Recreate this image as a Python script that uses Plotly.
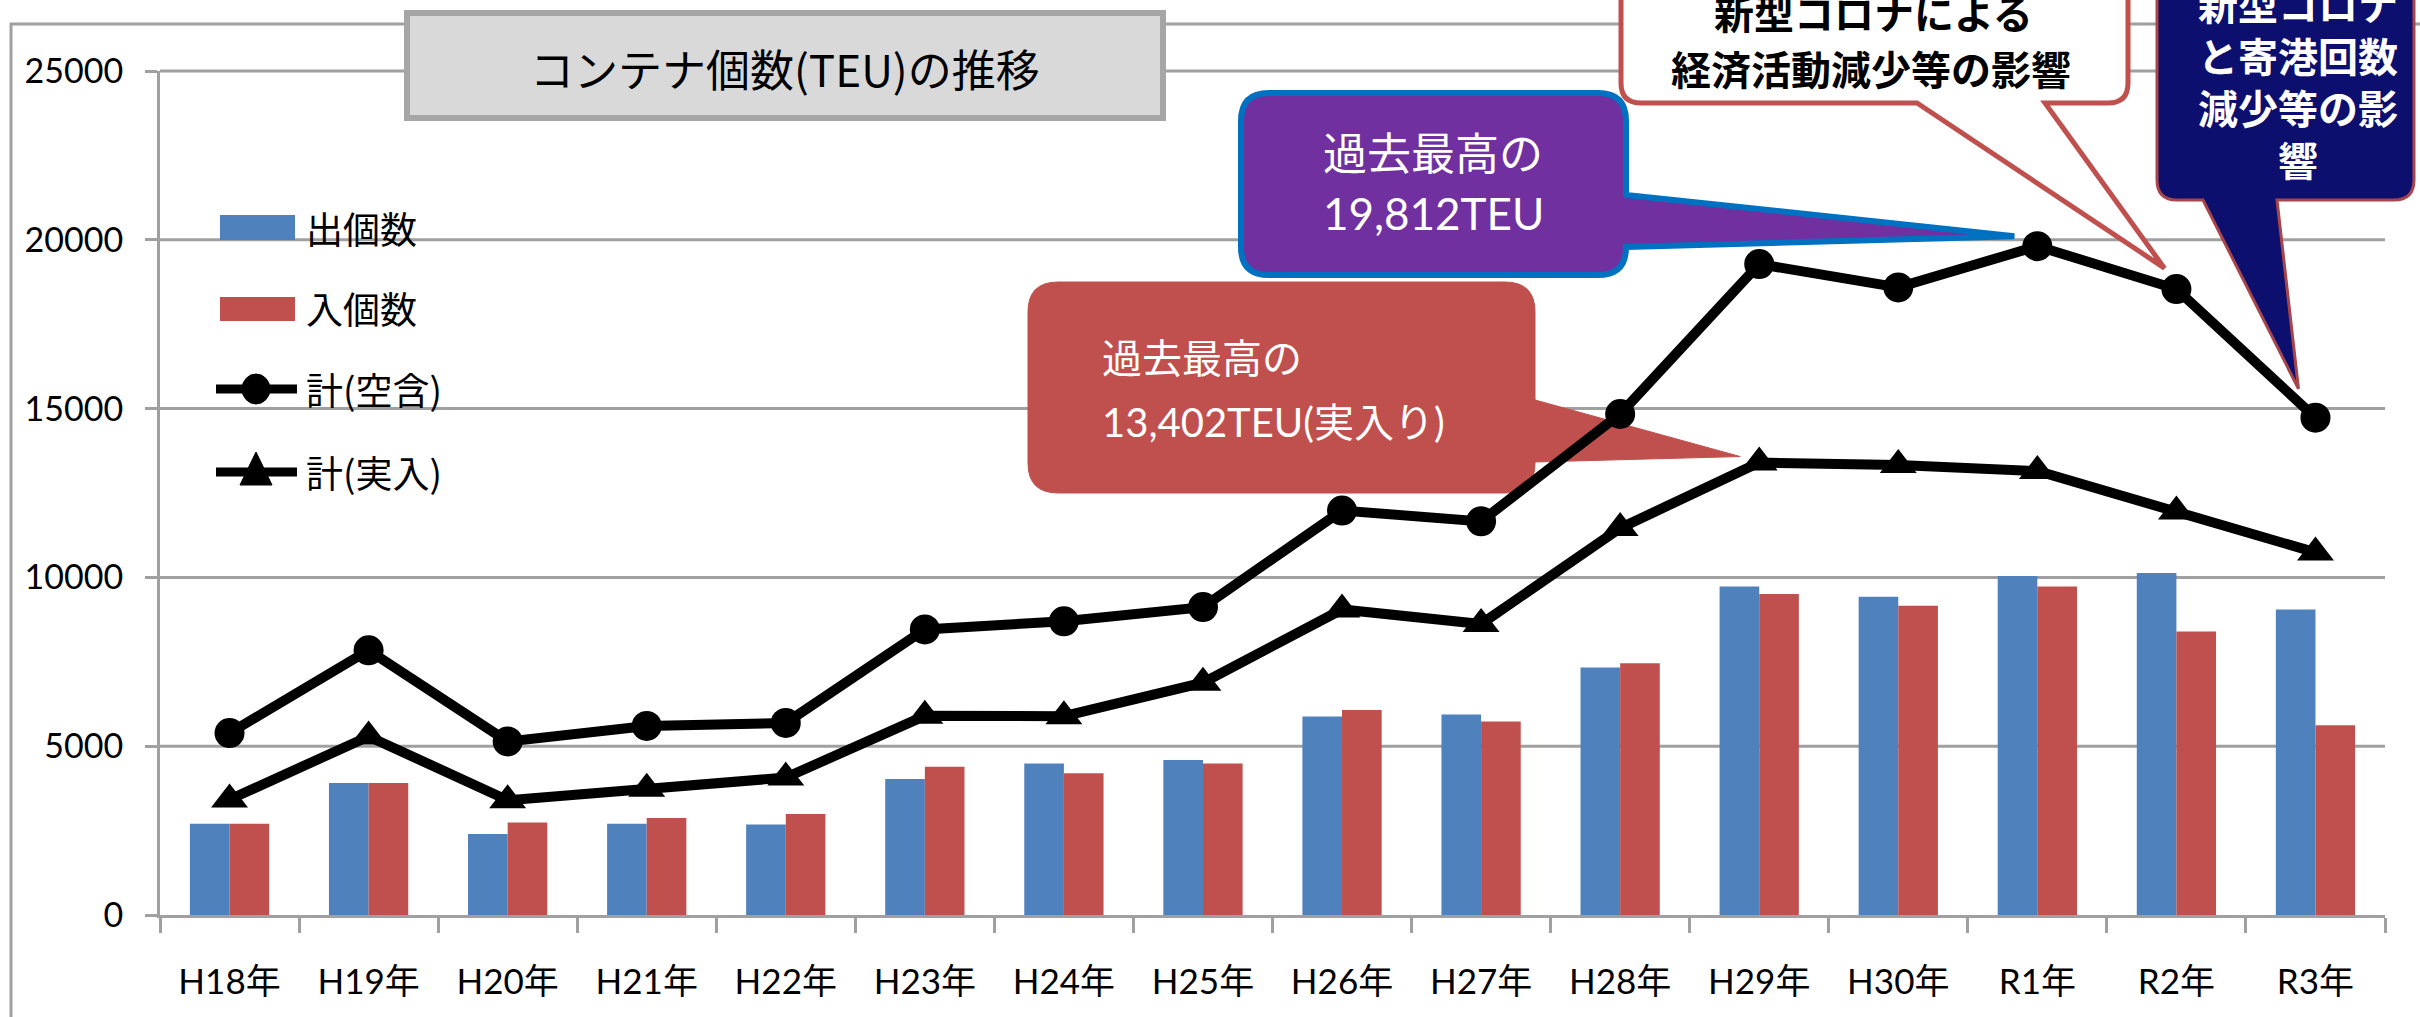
import plotly.graph_objects as go

# ---------------- data ----------------
categories = ["H18年", "H19年", "H20年", "H21年", "H22年", "H23年", "H24年", "H25年",
              "H26年", "H27年", "H28年", "H29年", "H30年", "R1年", "R2年", "R3年"]
out_counts = [2700, 3910, 2400, 2700, 2680, 4030, 4490, 4590,
              5880, 5940, 7330, 9730, 9430, 10040, 10130, 9050]
in_counts = [2700, 3910, 2740, 2870, 2990, 4390, 4200, 4490,
             6070, 5730, 7460, 9510, 9160, 9730, 8400, 5620]
total_all = [5390, 7840, 5140, 5600, 5690, 8460, 8700, 9120,
             11980, 11660, 14840, 19280, 18590, 19812, 18540, 14730]
total_real = [3420, 5290, 3400, 3740, 4070, 5900, 5890, 6880,
              9050, 8620, 11460, 13402, 13330, 13150, 11950, 10740]
y_ticks = [0, 5000, 10000, 15000, 20000, 25000]
y_max = 25000

series_names = ["出個数", "入個数", "計(空含)", "計(実入)"]
title_text = "コンテナ個数(TEU)の推移"

# ---------------- layout constants (pixels) ----------------
W, H = 2420, 1017
L, R, T, B = 160, 2385, 71, 915
GRID = "#a0a0a0"
BLUE = "#4f81bd"
RED = "#c0504d"
FONT = "Lato, Noto Sans CJK JP, sans-serif"
JFONT = "Noto Sans CJK JP, sans-serif"


def px(x):
    return (x - L) / (R - L)


def py(y):
    return (B - y) / (B - T)


def P(x, y):
    return f"{px(x):.5f},{py(y):.5f}"


def data_px(i, v):
    return L + (i + 0.5) * (R - L) / len(categories), B - v / y_max * (B - T)


def callout(x0, y0, x1, y1, r, side, a, b, tip):
    tx, ty = tip
    d = [f"M{P(x0 + r, y0)}", f"L{P(x1 - r, y0)}", f"Q{P(x1, y0)} {P(x1, y0 + r)}"]
    if side == "right":
        d += [f"L{P(x1, a)}", f"L{P(tx, ty)}", f"L{P(x1, b)}"]
    d += [f"L{P(x1, y1 - r)}", f"Q{P(x1, y1)} {P(x1 - r, y1)}"]
    if side == "bottom":
        d += [f"L{P(b, y1)}", f"L{P(tx, ty)}", f"L{P(a, y1)}"]
    d += [f"L{P(x0 + r, y1)}", f"Q{P(x0, y1)} {P(x0, y1 - r)}",
          f"L{P(x0, y0 + r)}", f"Q{P(x0, y0)} {P(x0 + r, y0)}", "Z"]
    return " ".join(d)


fig = go.Figure()
fig.add_trace(go.Bar(x=categories, y=out_counts, name=series_names[0],
                     marker=dict(color=BLUE, line=dict(width=0)), showlegend=False))
fig.add_trace(go.Bar(x=categories, y=in_counts, name=series_names[1],
                     marker=dict(color=RED, line=dict(width=0)), showlegend=False))
fig.add_trace(go.Scatter(x=categories, y=total_real, name=series_names[3], mode="lines+markers",
                         line=dict(color="black", width=10),
                         marker=dict(symbol="triangle-up", size=32, color="black"),
                         showlegend=False, cliponaxis=False))
fig.add_trace(go.Scatter(x=categories, y=total_all, name=series_names[2], mode="lines+markers",
                         line=dict(color="black", width=10),
                         marker=dict(symbol="circle", size=30, color="black"),
                         showlegend=False, cliponaxis=False))

shapes = []
# outer frame
shapes.append(dict(type="rect", xref="paper", yref="paper", layer="below",
                   x0=px(11), y0=py(1040), x1=px(2440), y1=py(24),
                   line=dict(color=GRID, width=3), fillcolor="rgba(0,0,0,0)"))
# gridlines (kept beneath the callouts)
for v in y_ticks[1:]:
    shapes.append(dict(type="line", xref="paper", yref="paper", layer="below",
                       x0=0, x1=1, y0=v / y_max, y1=v / y_max,
                       line=dict(color=GRID, width=3)))
# title box
shapes.append(dict(type="rect", xref="paper", yref="paper", layer="below",
                   x0=px(407), y0=py(118), x1=px(1163), y1=py(13),
                   line=dict(color="#a6a6a6", width=6), fillcolor="#d9d9d9"))

# callouts
i_r1 = categories.index("R1年")
i_h29 = categories.index("H29年")
i_r2 = categories.index("R2年")
i_r3 = categories.index("R3年")

p = data_px(i_r1, total_all[i_r1])
shapes.append(dict(type="path", xref="paper", yref="paper", layer="below",
                   path=callout(1241, 93, 1626, 275, 28, "right", 195, 247, (p[0] - 23, p[1] - 10)),
                   fillcolor="#7030a0", line=dict(color="#0070c0", width=6)))
p = data_px(i_h29, total_real[i_h29])
shapes.append(dict(type="path", xref="paper", yref="paper", layer="below",
                   path=callout(1028, 282, 1535, 493, 30, "right", 400, 462, (p[0] - 19, p[1] - 6)),
                   fillcolor=RED, line=dict(color=RED, width=1)))
p = data_px(i_r2, total_all[i_r2])
shapes.append(dict(type="path", xref="paper", yref="paper", layer="below",
                   path=callout(1621, -60, 2128, 103, 20, "bottom", 1917, 2045, (p[0] - 12, p[1] - 21)),
                   fillcolor="white", line=dict(color=RED, width=5)))
p = data_px(i_r3, total_all[i_r3])
shapes.append(dict(type="path", xref="paper", yref="paper", layer="below",
                   path=callout(2157, -60, 2414, 200, 20, "bottom", 2203, 2277, (p[0] - 17, p[1] - 29)),
                   fillcolor="#0c0f6e", line=dict(color="#a8454a", width=3)))

# manual legend
shapes.append(dict(type="rect", xref="paper", yref="paper", layer="below",
                   x0=px(220), x1=px(295), y0=py(240), y1=py(215),
                   fillcolor=BLUE, line=dict(width=0)))
shapes.append(dict(type="rect", xref="paper", yref="paper", layer="below",
                   x0=px(220), x1=px(295), y0=py(321), y1=py(297),
                   fillcolor=RED, line=dict(width=0)))
for yy in (389, 472):
    shapes.append(dict(type="line", xref="paper", yref="paper", layer="above",
                       x0=px(216), x1=px(297), y0=py(yy), y1=py(yy),
                       line=dict(color="black", width=9)))
shapes.append(dict(type="circle", xref="paper", yref="paper", layer="above",
                   x0=px(242), x1=px(270), y0=py(404), y1=py(374),
                   fillcolor="black", line=dict(color="black", width=1)))
shapes.append(dict(type="path", xref="paper", yref="paper", layer="above",
                   path=f"M{P(256, 452)} L{P(272, 485)} L{P(240, 485)} Z",
                   fillcolor="black", line=dict(color="black", width=1)))

annotations = []


def text(x, y, s, size, color="black", bold=False, xanchor="center", family=FONT):
    annotations.append(dict(xref="paper", yref="paper", x=px(x), y=py(y),
                            text=f"<b>{s}</b>" if bold else s, showarrow=False,
                            xanchor=xanchor, yanchor="middle", align="center",
                            font=dict(size=size, color=color, family=family)))


text(785, 68, title_text, 44, family=JFONT)
text(304, 228, series_names[0], 37, xanchor="left", family=JFONT)
text(304, 308, series_names[1], 37, xanchor="left", family=JFONT)
text(304, 389, series_names[2], 37, xanchor="left", family=JFONT)
text(304, 472, series_names[3], 37, xanchor="left", family=JFONT)

text(1433, 153, "過去最高の", 44, color="white")
text(1433, 213, "19,812TEU", 44, color="white")
text(1100, 358, "過去最高の", 40, color="white", xanchor="left")
text(1100, 422, "13,402TEU(実入り)", 40, color="white", xanchor="left")
text(1873, 12, "新型コロナによる", 40, bold=True, family=JFONT)
text(1871, 68, "経済活動減少等の影響", 40, bold=True, family=JFONT)
text(2298, 81, "新型コロナ<br>と寄港回数<br>減少等の影<br>響", 40, color="white", bold=True,
     family=JFONT)

fig.update_layout(
    width=W, height=H, autosize=False,
    margin=dict(l=L, r=W - R, t=T, b=H - B, pad=0),
    paper_bgcolor="white", plot_bgcolor="white",
    barmode="group", bargap=0.43, bargroupgap=0,
    showlegend=False,
    shapes=shapes, annotations=annotations,
    font=dict(family=FONT, color="black"),
)
fig.update_xaxes(type="category", range=[-0.5, len(categories) - 0.5],
                 tickson="boundaries", ticks="outside", ticklen=15,
                 tickwidth=3, tickcolor=GRID, showline=True, linecolor=GRID, linewidth=3,
                 showgrid=False, tickfont=dict(size=35, family=FONT, color="black"),
                 ticklabelstandoff=34)
fig.update_yaxes(range=[0, y_max], tickvals=y_ticks, tickformat="d", ticks="outside", ticklen=12,
                 tickwidth=3, tickcolor=GRID, showline=True, linecolor=GRID, linewidth=3,
                 showgrid=False, zeroline=False,
                 tickfont=dict(size=34, family=FONT, color="black"),
                 ticklabelstandoff=15)

fig.write_html("out.html", config={"displayModeBar": False},
               post_script="document.body.style.margin='0';document.body.style.overflow='hidden';")
